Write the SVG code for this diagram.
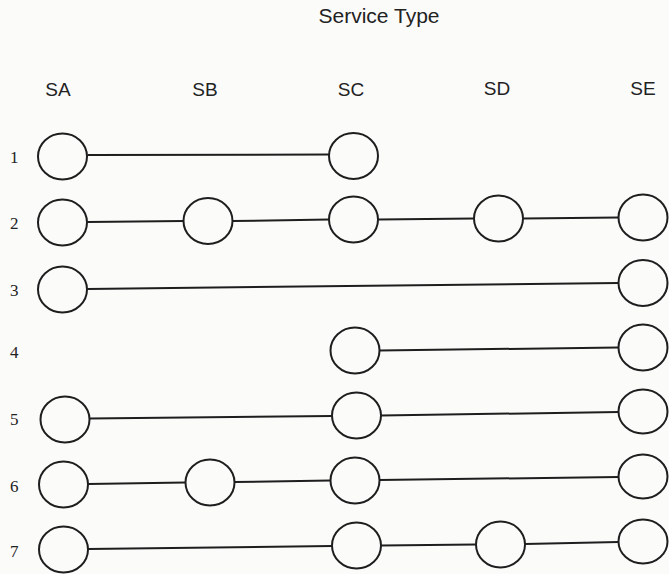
<svg xmlns="http://www.w3.org/2000/svg" width="669" height="574" viewBox="0 0 669 574">
<style>
.n{fill:none;stroke:#1e1e1e;stroke-width:2}
.c line{stroke:#1e1e1e;stroke-width:2}
.h{font-family:"Liberation Sans",Arial,sans-serif;font-size:19px;fill:#222;text-anchor:middle}
.r{font-family:"Liberation Serif","Times New Roman",serif;font-size:17px;fill:#222}
</style>
<rect width="669" height="574" fill="#fbfbfa"/>
<text class="h" x="379" y="23" style="font-size:21px">Service Type</text>
<g id="headers">
<text class="h" x="58" y="96">SA</text>
<text class="h" x="205" y="96">SB</text>
<text class="h" x="351" y="96">SC</text>
<text class="h" x="497" y="95">SD</text>
<text class="h" x="643" y="95">SE</text>
</g>
<g id="rows">
<text class="r" x="10" y="163">1</text>
<text class="r" x="10" y="229">2</text>
<text class="r" x="10" y="296">3</text>
<text class="r" x="10" y="358">4</text>
<text class="r" x="10" y="425">5</text>
<text class="r" x="10" y="492">6</text>
<text class="r" x="10" y="557">7</text>
</g>
<g id="connectors" class="c">
<line x1="87.5" y1="155" x2="329.5" y2="154.5"/>
<line x1="87.5" y1="222" x2="183.5" y2="221"/>
<line x1="232.5" y1="221" x2="329.5" y2="219.5"/>
<line x1="378.5" y1="219.5" x2="474.5" y2="218.5"/>
<line x1="523.5" y1="218.5" x2="618.5" y2="217.5"/>
<line x1="87.5" y1="289" x2="618.5" y2="283"/>
<line x1="379.5" y1="350.5" x2="618.5" y2="347.5"/>
<line x1="89.5" y1="418.5" x2="332" y2="416"/>
<line x1="381" y1="415.5" x2="618.5" y2="412"/>
<line x1="88" y1="484" x2="185.5" y2="482.5"/>
<line x1="234.5" y1="482" x2="330.5" y2="480.5"/>
<line x1="379.5" y1="480" x2="618.5" y2="477"/>
<line x1="88" y1="549" x2="332" y2="546"/>
<line x1="381" y1="545.5" x2="476" y2="544.5"/>
<line x1="525" y1="544" x2="618.5" y2="542"/>
</g>
<g id="r1sa"><ellipse class="n" cx="62.5" cy="156.5" rx="24.5" ry="23"/></g>
<g id="r1sc"><ellipse class="n" cx="353.5" cy="156" rx="24.5" ry="23"/></g>
<g id="r2sa"><ellipse class="n" cx="62.5" cy="222.5" rx="24.5" ry="23"/></g>
<g id="r2sb"><ellipse class="n" cx="208" cy="221" rx="24.5" ry="23"/></g>
<g id="r2sc"><ellipse class="n" cx="353.5" cy="219.5" rx="24.5" ry="23"/></g>
<g id="r2sd"><ellipse class="n" cx="498.5" cy="218.5" rx="24.5" ry="23"/></g>
<g id="r2se"><ellipse class="n" cx="643" cy="217.5" rx="24.5" ry="23"/></g>
<g id="r3sa"><ellipse class="n" cx="62.5" cy="289.5" rx="24.5" ry="23"/></g>
<g id="r3se"><ellipse class="n" cx="643" cy="283" rx="24.5" ry="23"/></g>
<g id="r4sc"><ellipse class="n" cx="355" cy="350.5" rx="24.5" ry="23"/></g>
<g id="r4se"><ellipse class="n" cx="643" cy="347.5" rx="24.5" ry="23"/></g>
<g id="r5sa"><ellipse class="n" cx="65" cy="419.5" rx="24.5" ry="23"/></g>
<g id="r5sc"><ellipse class="n" cx="356.5" cy="415.5" rx="24.5" ry="23"/></g>
<g id="r5se"><ellipse class="n" cx="643" cy="411.5" rx="24.5" ry="22"/></g>
<g id="r6sa"><ellipse class="n" cx="63.5" cy="484.5" rx="24.5" ry="23"/></g>
<g id="r6sb"><ellipse class="n" cx="210" cy="482.5" rx="24.5" ry="23"/></g>
<g id="r6sc"><ellipse class="n" cx="355" cy="480.5" rx="24.5" ry="23"/></g>
<g id="r6se"><ellipse class="n" cx="643" cy="476.5" rx="24.5" ry="22"/></g>
<g id="r7sa"><ellipse class="n" cx="63.5" cy="549.5" rx="24.5" ry="23"/></g>
<g id="r7sc"><ellipse class="n" cx="356.5" cy="545.5" rx="24.5" ry="23"/></g>
<g id="r7sd"><ellipse class="n" cx="500.5" cy="544.5" rx="24.5" ry="23"/></g>
<g id="r7se"><ellipse class="n" cx="643" cy="541.5" rx="24.5" ry="22"/></g>
</svg>
